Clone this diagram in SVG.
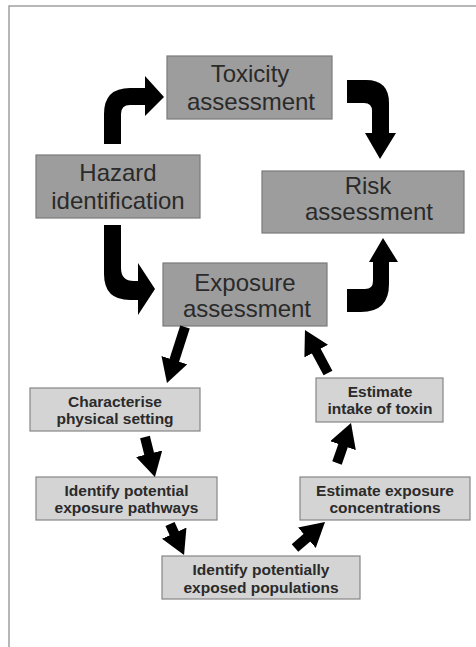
<svg xmlns="http://www.w3.org/2000/svg" width="476" height="647" viewBox="0 0 476 647">
<style>
.big{fill:#9d9d9d;stroke:#7a7a7a;stroke-width:1.2}
.small{fill:#d4d4d4;stroke:#858585;stroke-width:1.2}
.bt{font-family:"Liberation Sans",Arial,sans-serif;font-size:24px;fill:#2a2a2a;text-anchor:middle}
.st{font-family:"Liberation Sans",Arial,sans-serif;font-size:15.5px;font-weight:bold;fill:#2a2a2a;text-anchor:middle}
.curve{fill:#000}
.conn line{stroke:#000;stroke-width:10}
</style>
<defs>
<marker id="ah" markerUnits="userSpaceOnUse" markerWidth="27" markerHeight="27" viewBox="0 0 27 27" refX="4" refY="13.5" orient="auto">
<path d="M0,0 L24,13.5 L0,27 Z" fill="#000"/>
</marker>
</defs>
<rect width="476" height="647" fill="#fff"/>
<path d="M9,647 L9,6 L476,6" fill="none" stroke="#a0a0a0" stroke-width="1.5"/>

<g id="toxicity">
<rect class="big" x="167" y="56" width="165" height="63"/>
<text class="bt" x="250" y="82">Toxicity</text>
<text class="bt" x="251" y="110">assessment</text>
</g>
<g id="hazard">
<rect class="big" x="36" y="155" width="164" height="63"/>
<text class="bt" x="118" y="181">Hazard</text>
<text class="bt" x="118" y="209">identification</text>
</g>
<g id="risk">
<rect class="big" x="262" y="171" width="202" height="62"/>
<text class="bt" x="368" y="194">Risk</text>
<text class="bt" x="369" y="220">assessment</text>
</g>
<g id="exposure">
<rect class="big" x="163" y="263" width="164" height="63"/>
<text class="bt" x="245" y="291">Exposure</text>
<text class="bt" x="247" y="317">assessment</text>
</g>

<g id="characterise">
<rect class="small" x="30" y="388" width="170" height="43"/>
<text class="st" x="115" y="406.5">Characterise</text>
<text class="st" x="115" y="424">physical setting</text>
</g>
<g id="pathways">
<rect class="small" x="36" y="477" width="181" height="43"/>
<text class="st" x="126.5" y="495.5">Identify potential</text>
<text class="st" x="126.5" y="513">exposure pathways</text>
</g>
<g id="populations">
<rect class="small" x="162" y="556" width="198" height="43"/>
<text class="st" x="261" y="575">Identify potentially</text>
<text class="st" x="261" y="593">exposed populations</text>
</g>
<g id="concentrations">
<rect class="small" x="300" y="477" width="170" height="43"/>
<text class="st" x="385" y="496">Estimate exposure</text>
<text class="st" x="385" y="513">concentrations</text>
</g>
<g id="intake">
<rect class="small" x="316" y="378" width="127" height="44"/>
<text class="st" x="380" y="397">Estimate</text>
<text class="st" x="380" y="414">intake of toxin</text>
</g>

<g id="connectors">
<path class="curve" d="M104,144 L104,114 Q104,88 130,88 L145,88 L145,76 L164,97 L145,116 L145,105 L130,105 Q121,105 121,114 L121,144 Z"/>
<path class="curve" d="M347,80 L366,80 Q389,80 389,103 L389,133 L396,133 L380,159 L365,133 L372,133 L372,111 Q372,103 364,103 L347,103 Z"/>
<path class="curve" d="M104,225 L121,225 L121,268 Q121,281 134,281 L138,281 L138,263 L155,289 L138,315 L138,300 L130,300 Q104,300 104,274 Z"/>
<path class="curve" d="M347,289 L365,289 Q373,289 373,281 L373,262 L369,262 L383,238 L398,262 L389,262 L389,284 Q389,312 361,312 L347,312 Z"/>
<g class="conn">
<line x1="185" y1="327" x2="173.1" y2="364" marker-end="url(#ah)"/>
<line x1="145" y1="437" x2="150.1" y2="457.6" marker-end="url(#ah)"/>
<line x1="170" y1="524" x2="175.8" y2="536.8" marker-end="url(#ah)"/>
<line x1="295" y1="548" x2="309.9" y2="535.1" marker-end="url(#ah)"/>
<line x1="337" y1="463" x2="344.4" y2="441.9" marker-end="url(#ah)"/>
<line x1="328" y1="373" x2="314.4" y2="347.6" marker-end="url(#ah)"/>
</g>
</g>
</svg>
